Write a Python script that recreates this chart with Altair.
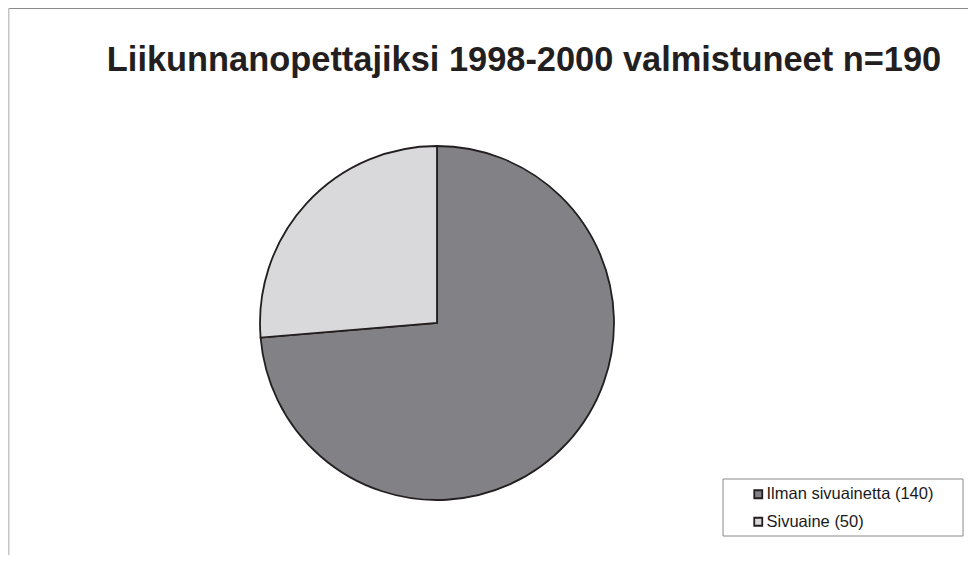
import altair as alt
import pandas as pd

# data
categories = ["Ilman sivuainetta (140)", "Sivuaine (50)"]
values = [140, 50]
order = [0, 1]
slice_colors = ["#828286", "#d9d9db"]
title_text = "Liikunnanopettajiksi 1998-2000 valmistuneet n=190"

W, H = 960, 547
FONT = "Liberation Sans"

pie_df = pd.DataFrame({"category": categories, "value": values, "order": order})
one = pd.DataFrame({"a": [0]})

top_line = alt.Chart(one).mark_rule(color="#8a8a8a", strokeWidth=1).encode(
    x=alt.value(0), x2=alt.value(W), y=alt.value(0.5)
)
left_line = alt.Chart(one).mark_rule(color="#c4c4c4", strokeWidth=2).encode(
    x=alt.value(0.5), y=alt.value(0), y2=alt.value(H)
)

legend_box = alt.Chart(one).mark_rect(fill="white", stroke="#8a8a8a", strokeWidth=1).encode(
    x=alt.value(715), x2=alt.value(955), y=alt.value(471), y2=alt.value(528)
)

pie = alt.Chart(pie_df).mark_arc(
    outerRadius=177, stroke="#231f20", strokeWidth=1.8
).encode(
    theta=alt.Theta("value:Q", stack=True),
    order=alt.Order("order:Q"),
    color=alt.Color(
        "category:N",
        scale=alt.Scale(domain=categories, range=slice_colors),
        legend=alt.Legend(
            title=None,
            orient="none",
            legendX=742,
            legendY=478,
            padding=0,
            symbolType="square",
            symbolSize=64,
            symbolStrokeColor="#231f20",
            symbolStrokeWidth=1.8,
            labelFont=FONT,
            labelFontSize=16.5,
            labelColor="#1a1a1a",
            labelOffset=0,
            rowPadding=10.5,
            labelLimit=400,
        ),
    ),
    x=alt.value(429),
    y=alt.value(315),
)

title = alt.Chart(one).mark_text(
    font=FONT, fontSize=34.4, fontWeight="bold", color="#231f20",
    align="center", baseline="alphabetic"
).encode(
    x=alt.value(516), y=alt.value(63), text=alt.value(title_text)
)

chart = alt.layer(top_line, left_line, legend_box, pie, title).properties(
    width=W, height=H, padding=0, autosize=alt.AutoSizeParams(type="none")
).configure_view(stroke=None)

chart.save("out.html", embed_options={"renderer": "svg", "actions": False})
